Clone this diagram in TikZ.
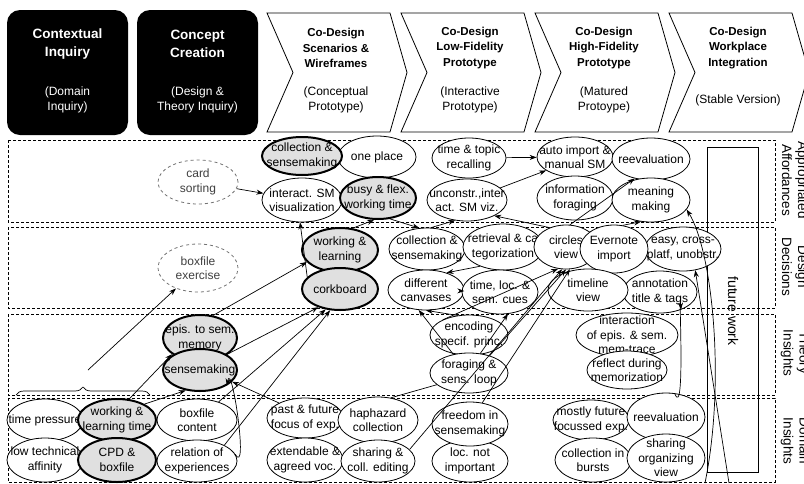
\documentclass[tikz,border=0pt]{standalone}
\usepackage{fontspec}
\setmainfont{Liberation Sans}
\usetikzlibrary{shapes.geometric,arrows.meta,decorations.pathreplacing}
\tikzset{
  idea/.style={ellipse, draw, fill=white, line width=.8pt, inner sep=0pt, minimum width=78pt, minimum height=42pt},
  core/.style={line width=2pt, fill=black!12},
  open/.style={dashed, draw=black!55},
  txt/.style={align=center, inner sep=0pt, font=\fontsize{12}{14.5}\selectfont},
  phase/.style={fill=black, rounded corners=13pt, minimum width=121pt, minimum height=125pt},
  band/.style={draw, dashed, line width=.7pt, dash pattern=on 3pt off 2pt},
  side/.style={rotate=-90, align=center, font=\fontsize{13.5}{16}\selectfont},
}
\newcommand\bub[4][]{\node[idea,#1,label={[txt]center:{#4}}] (#2) at (#3) {};}
\begin{document}
\begin{tikzpicture}[x=1pt, y=-1pt, >={Stealth[length=7pt,width=5pt]}]
\useasboundingbox (0,0) rectangle (804,483);
\node[phase] (ci) at (67.5,72.5) {};
\node[phase] (cc) at (197.5,72.5) {};
\node[txt, text=white, font=\bfseries\fontsize{13.5}{18}\selectfont] (ci-t) at (67.5,44) {Contextual\\Inquiry};
\node[txt, text=white] (ci-s) at (67.5,100) {(Domain\\Inquiry)};
\node[txt, text=white, font=\bfseries\fontsize{13.5}{18}\selectfont] (cc-t) at (197.5,44) {Concept\\Creation};
\node[txt, text=white] (cc-s) at (197.5,100) {(Design \&\\Theory Inquiry)};
\foreach \x/\n/\t/\s in {267/sc/{Co-Design\\Scenarios \&\\Wireframes}/{(Conceptual\\Prototype)},
    401/lf/{Co-Design\\Low-Fidelity\\Prototype}/{(Interactive\\Prototype)},
    535/hf/{Co-Design\\High-Fidelity\\Prototype}/{(Matured\\Protoype)},
    669/wp/{Co-Design\\Workplace\\Integration}/{(Stable Version)}}{
  \draw[line width=.8pt] (\x,13) -- ++(123,0) -- ++(17,59.5) -- ++(-17,59.5) -- ++(-123,0) -- ++(26,-59.5) -- cycle;
  \node[txt, font=\bfseries\fontsize{11.5}{15.5}\selectfont] (\n-t) at (\x+69,48) {\t};
  \node[txt] (\n-s) at (\x+69,100) {\s};
}
\draw[band] (8,140) rectangle (775,222);
\draw[band] (8,227) rectangle (775,308);
\draw[band] (8,314) rectangle (775,395);
\draw[band] (8,398) rectangle (775,482);
\node[side] (aa) at (795,180) {Appropriated\\Affordances};
\node[side] (dd) at (795,267) {Design\\Decisions};
\node[side] (ti) at (795,353) {Theory\\Insights};
\node[side] (di) at (795,441) {Domain\\Insights};
\node[draw, line width=.8pt, minimum width=51pt, minimum height=325pt] (fw) at (732.5,309.5) {};
\node[rotate=-90, font=\fontsize{14}{16}\selectfont] (fw-t) at (733,311) {future work};

\bub[open, minimum width=80pt, minimum height=44pt]{card}{198,182}{\color{black!75}card\\\color{black!75}sorting}
\bub{oneplace}{377,157}{one place}
\bub[core, minimum width=80pt, minimum height=38pt]{coll1}{302,156}{collection \&\\sensemaking}
\bub[minimum width=80pt, minimum height=44pt]{interact}{302,200}{interact. SM\\visualization}
\bub[core, minimum width=76pt]{busy}{378,198}{busy \& flex.\\working time}
\bub[minimum width=74pt, minimum height=40pt]{timetopic}{469,158}{time \& topic\\recalling}
\bub[minimum width=80pt]{unconstr}{467,200}{unconstr.,inter\\act. SM viz.}
\bub[minimum width=76pt, minimum height=40pt]{autoimp}{575,157}{auto import \&\\manual SM}
\bub{reeval1}{651,159}{reevaluation}
\bub[minimum width=76pt, minimum height=44pt]{infofor}{575,198}{information\\foraging}
\bub[minimum height=44pt]{meaning}{651,200}{meaning\\making}

\bub[open, minimum width=80pt, minimum height=48pt]{boxex}{198,268}{\color{black!75}boxfile\\\color{black!75}exercise}
\bub[core, minimum width=76pt, minimum height=44pt]{wl}{340,250}{working \&\\learning}
\bub[core, minimum width=76pt]{cork}{340,289}{corkboard}
\bub[minimum width=76pt]{coll2}{427,249}{collection \&\\sensemaking}
\bub[minimum width=76pt, minimum height=40pt]{diffcan}{426,290}{different\\canvases}
\bub[minimum width=80pt, minimum height=46pt]{retr}{503,247}{retrieval \& ca\\tegorization}
\bub[minimum width=76pt, minimum height=44pt]{timeloc}{500,292}{time, loc. \&\\sem. cues}
\bub[minimum width=64pt, minimum height=44pt]{circles}{566,247}{circles\\view}
\bub[minimum width=76pt, minimum height=44pt]{easy}{683,249}{easy, cross-\\platf, unobstr.}
\bub[minimum width=68pt, minimum height=48pt]{evernote}{614,249}{Evernote\\import}
\bub[minimum width=74pt]{annot}{660,292}{annotation\\title \& tags}
\bub[minimum width=80pt]{timeline}{588,290}{timeline\\view}

\bub[core, minimum width=74pt, minimum height=46pt]{epis}{200,338}{epis. to sem.\\memory}
\bub[core, minimum width=74pt]{sense}{200,370}{sensemaking}
\bub[minimum height=40pt]{encoding}{469,335}{encoding\\specif. princ.}
\bub[minimum height=40pt]{foraging}{469,373}{foraging \&\\sens. loop}
\bub[minimum width=102pt, minimum height=44pt]{interaction}{627,335}{interaction\\of epis. \& sem.\\mem-trace}
\bub[minimum width=80pt, minimum height=38pt]{reflect}{627,370}{reflect during\\memorization}

\bub[minimum width=76pt]{timepress}{45,420}{time pressure}
\bub[minimum width=76pt, minimum height=44pt]{lowtech}{45,460}{low technical\\affinity}
\bub[core, minimum width=78pt]{wlt}{117,420}{working \&\\learning time}
\bub[core, minimum width=78pt, minimum height=44pt]{cpd}{117,460}{CPD \&\\boxfile}
\bub[minimum width=80pt]{boxcont}{197,420}{boxfile\\content}
\bub[minimum width=80pt]{relation}{197,461}{relation of\\experiences}
\bub[minimum width=76pt, minimum height=40pt]{pastfut}{305,418}{past \& future\\focus of exp.}
\bub[minimum width=76pt, minimum height=44pt]{extend}{305,460}{extendable \&\\agreed voc.}
\bub[minimum width=80pt, minimum height=46pt]{haphaz}{378,420}{haphazard\\collection}
\bub[minimum width=74pt]{sharing}{378,461}{sharing \&\\coll. editing}
\bub[minimum width=76pt]{locnot}{470,461}{loc. not\\important}
\bub[minimum width=76pt, minimum height=44pt]{freedom}{470,424}{freedom in\\sensemaking}
\bub[minimum width=76pt, minimum height=40pt]{mostly}{591,420}{mostly future\\focussed exp.}
\bub[minimum width=76pt, minimum height=44pt]{bursts}{593,460}{collection in\\bursts}
\bub[minimum height=48pt]{reeval2}{666,417}{reevaluation}
\bub[minimum height=48pt]{shareorg}{666,458}{sharing\\organizing\\view}

\draw[decorate, decoration={brace, amplitude=8pt}, line width=.7pt] (16,395) -- (150,395);
\coordinate (bracetip) at (88,370);
\coordinate (fwA) at (705,483);
\coordinate (fwB) at (729,483);

\begin{scope}[line width=.7pt]
\draw[->] (card) -- (interact);
\draw[->] (bracetip) -- (boxex);
\draw[->] (epis.60) -- (wl.200);
\draw[->] (cork.160) -- (interact.265);
\draw[->] (wl.60) -- (busy.260);
\draw[->] (busy.300) -- (coll2.110);
\draw[->] (coll2.80) -- (unconstr.240);
\draw[->] (timetopic) -- (autoimp);
\draw[->] (unconstr.20) -- (autoimp.205);
\draw[->] (circles.130) -- (unconstr.330);
\draw[->] (circles.80) -- (reeval1.230);
\draw[->] (evernote.70) -- (meaning.245);
\draw[->] (fwA) .. controls (726,380) and (712,250) .. (meaning.345);
\draw[->] (fwB) -- (easy.300);
\draw[->] (reeval2.70) to[out=-70, in=95] (annot.320);
\draw[->] (retr.220) -- (diffcan.40);
\draw[->] (timeloc) -- (diffcan);
\draw[->] (encoding.120) -- (diffcan.270);
\draw[->] (foraging.130) -- (diffcan.250);
\draw[->] (foraging.60) -- (timeloc.290);
\draw[->] (encoding.150) -- (circles.250);
\draw[->] (foraging.40) -- (circles.270);
\draw[->] (freedom.60) -- (circles.280);
\draw[->] (sharing.20) -- (circles.260);
\draw (haphaz.60) -- (foraging.200);
\draw[->] (wlt.60) -- (epis.210);
\draw[->] (wlt.30) -- (sense.235);
\draw[->] (relation.10) to[out=-60, in=80] (sense.330);
\draw[->] (pastfut.150) -- (sense.340);
\draw[->] (sense.30) -- (cork.220);
\draw[->] (boxcont.40) -- (cork.235);
\draw[->] (relation.30) -- (cork.245);
\end{scope}
\end{tikzpicture}
\end{document}
